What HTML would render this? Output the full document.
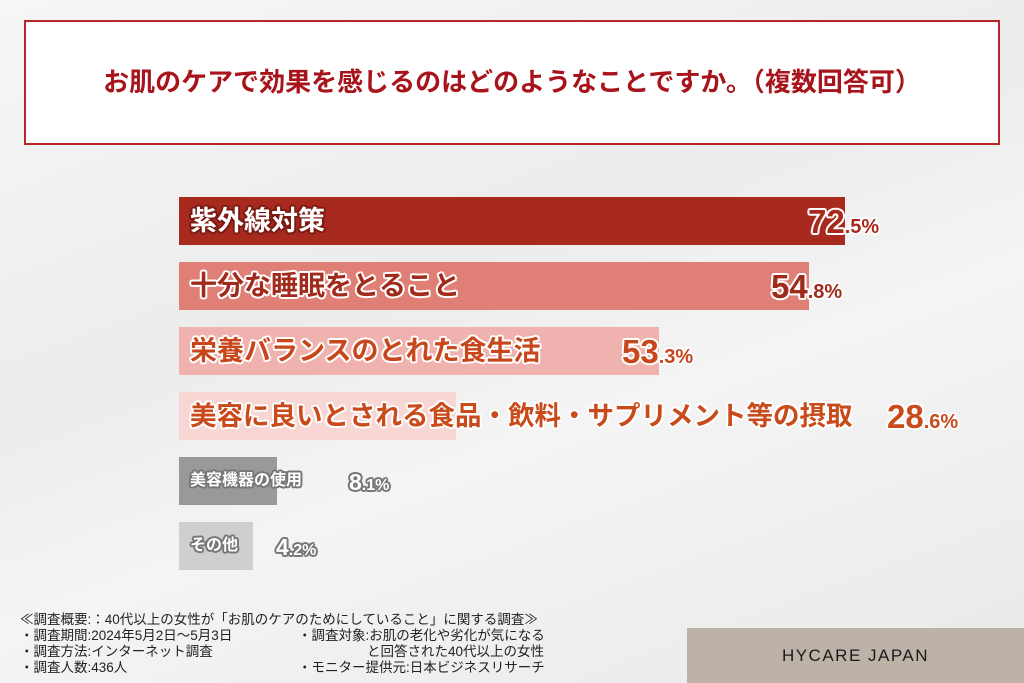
<!DOCTYPE html>
<html><head><meta charset="utf-8">
<style>
body{margin:0;width:1024px;height:683px;overflow:hidden;background:linear-gradient(160deg,#f6f6f6 0%,#ececec 40%,#f4f4f4 60%,#e9e9e9 100%);position:relative;font-family:"Liberation Sans","Noto Sans CJK JP",sans-serif;}
.abs{position:absolute}
.title{left:24px;top:20px;width:972px;height:121px;border:2px solid #b5262a;background:#fff;text-align:center;line-height:121px;font-size:26px;font-weight:bold;color:#a8141c;letter-spacing:0px}
.bar{position:absolute;left:179px;height:48px}
.lab{position:absolute;left:190px;font-weight:bold;white-space:nowrap;line-height:48px}
.ws{text-shadow:2px 0 #fff,-2px 0 #fff,0 2px #fff,0 -2px #fff,1.5px 1.5px #fff,-1.5px 1.5px #fff,1.5px -1.5px #fff,-1.5px -1.5px #fff}
.rs{text-shadow:2px 0 #7a1a12,-2px 0 #7a1a12,0 2px #7a1a12,0 -2px #7a1a12,1.5px 1.5px #7a1a12,-1.5px 1.5px #7a1a12,1.5px -1.5px #7a1a12,-1.5px -1.5px #7a1a12}
.gs{text-shadow:2px 0 #777,-2px 0 #777,0 2px #777,0 -2px #777,1.5px 1.5px #777,-1.5px 1.5px #777,1.5px -1.5px #777,-1.5px -1.5px #777}
.val{position:absolute;font-weight:bold;white-space:nowrap;line-height:48px;font-size:33px}
.val small{font-size:20px}
.foot{left:20px;font-size:13.5px;color:#222;line-height:16px;white-space:nowrap}
</style></head><body>
<div class="abs title">お肌のケアで効果を感じるのはどのようなことですか。（複数回答可）</div>

<div class="bar" style="top:197px;width:666px;background:#a8291e"></div>
<div class="lab rs" style="top:197px;font-size:27px;color:#fff">紫外線対策</div>
<div class="val ws" style="top:198px;left:808px;color:#a8291e">72<small>.5%</small></div>

<div class="bar" style="top:262px;width:630px;background:#e07f76"></div>
<div class="lab ws" style="top:262px;font-size:27px;color:#a02a1c">十分な睡眠をとること</div>
<div class="val ws" style="top:263px;left:771px;color:#a02a1c">54<small>.8%</small></div>

<div class="bar" style="top:327px;width:480px;background:#efb2ae"></div>
<div class="lab ws" style="top:327px;font-size:27px;color:#c8461b">栄養バランスのとれた食生活</div>
<div class="val ws" style="top:328px;left:622px;color:#c8461b">53<small>.3%</small></div>

<div class="bar" style="top:392px;width:277px;background:#f7d6d4"></div>
<div class="lab ws" style="top:392px;font-size:26.5px;color:#c94a1a">美容に良いとされる食品・飲料・サプリメント等の摂取</div>
<div class="val ws" style="top:393px;left:887px;color:#c94a1a">28<small>.6%</small></div>

<div class="bar" style="top:457px;width:98px;background:#999"></div>
<div class="lab gs" style="top:457px;font-size:16px;color:#fff">美容機器の使用</div>
<div class="val gs" style="top:458px;left:349px;color:#fff;font-size:23px">8<small style="font-size:16px">.1%</small></div>

<div class="bar" style="top:522px;width:74px;background:#cfcfcf"></div>
<div class="lab gs" style="top:522px;font-size:16px;color:#fff">その他</div>
<div class="val gs" style="top:523px;left:276px;color:#fff;font-size:23px">4<small style="font-size:16px">.2%</small></div>

<div class="abs foot" style="top:612px">≪調査概要:：40代以上の女性が「お肌のケアのためにしていること」に関する調査≫<br>・調査期間:2024年5月2日～5月3日<br>・調査方法:インターネット調査<br>・調査人数:436人</div>
<div class="abs foot" style="top:628px;left:298px">・調査対象:お肌の老化や劣化が気になる</div>
<div class="abs foot" style="top:644px;left:367px">と回答された40代以上の女性</div>
<div class="abs foot" style="top:660px;left:298px">・モニター提供元:日本ビジネスリサーチ</div>

<div class="abs" style="left:687px;top:628px;width:337px;height:55px;background:#bdb2a7;color:#1a1a1a;font-size:17px;letter-spacing:1.5px;text-align:center;line-height:55px">HYCARE JAPAN</div>
</body></html>
